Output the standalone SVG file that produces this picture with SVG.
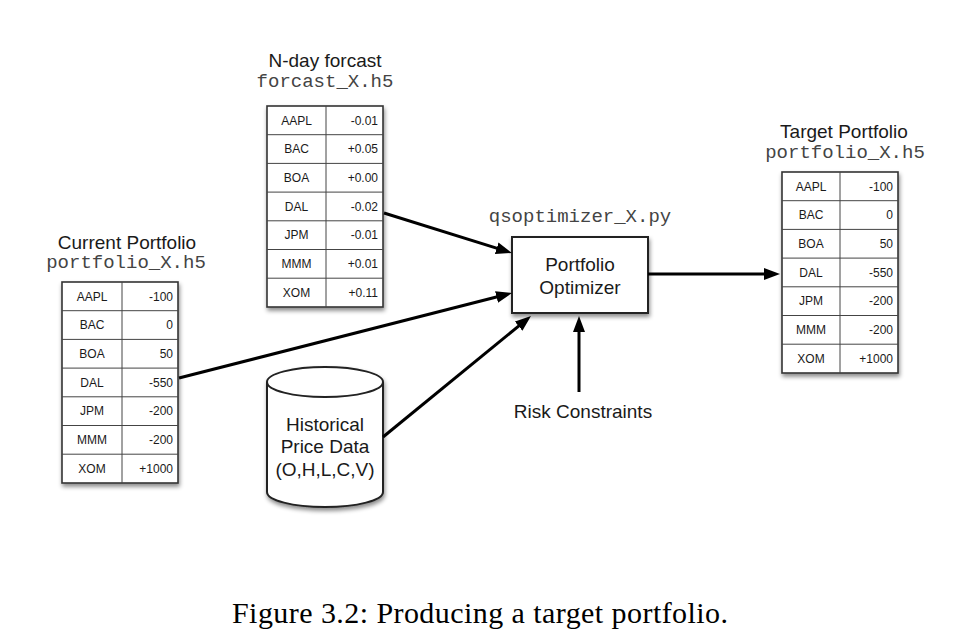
<svg xmlns="http://www.w3.org/2000/svg" width="963" height="644" viewBox="0 0 963 644">
<style>
.title{font-family:"Liberation Sans",Arial,sans-serif;font-size:19px;fill:#1a1a1a;text-anchor:middle}
.mono{font-family:"Liberation Mono","Courier New",monospace;font-size:19px;fill:#444;text-anchor:middle}
.cell{font-family:"Liberation Sans",Arial,sans-serif;font-size:12px;fill:#1a1a1a}
.lab{text-anchor:middle}
.val{text-anchor:end}
.tbl{fill:#fff;stroke:#333;stroke-width:1.6}
.grid{stroke:#444;stroke-width:1}
.box{fill:#fff;stroke:#222;stroke-width:2}
.conn{stroke:#000;stroke-width:3;fill:none}
.big{font-family:"Liberation Sans",Arial,sans-serif;font-size:19px;fill:#1a1a1a;text-anchor:middle}
.cap{font-family:"Liberation Serif","Times New Roman",serif;font-size:30px;fill:#000;text-anchor:middle}
</style>
<defs>
<filter id="sh" x="-15%" y="-10%" width="135%" height="130%">
<feDropShadow dx="1" dy="3" stdDeviation="2" flood-color="#000" flood-opacity="0.45"/>
</filter>
<marker id="ah" viewBox="0 0 16 12" markerWidth="16" markerHeight="12" markerUnits="userSpaceOnUse" refX="4" refY="6" orient="auto">
<path d="M0,0 L16,6 L0,12 Z" fill="#000"/>
</marker>
</defs>
<rect width="963" height="644" fill="#fff"/>

<g id="forecast">
<text class="title" x="325" y="67">N-day forcast</text>
<text class="mono" x="325" y="87">forcast_X.h5</text>
<rect class="tbl" x="267" y="106" width="116" height="201" filter="url(#sh)"/>
<g class="grid">
<line x1="326" y1="106" x2="326" y2="307"/>
<line x1="267" y1="134.7" x2="383" y2="134.7"/>
<line x1="267" y1="163.4" x2="383" y2="163.4"/>
<line x1="267" y1="192.1" x2="383" y2="192.1"/>
<line x1="267" y1="220.8" x2="383" y2="220.8"/>
<line x1="267" y1="249.5" x2="383" y2="249.5"/>
<line x1="267" y1="278.2" x2="383" y2="278.2"/>
</g>
<g class="cell">
<text class="lab" x="296.5" y="124.5">AAPL</text><text class="val" x="378" y="124.5">-0.01</text>
<text class="lab" x="296.5" y="153.2">BAC</text><text class="val" x="378" y="153.2">+0.05</text>
<text class="lab" x="296.5" y="181.9">BOA</text><text class="val" x="378" y="181.9">+0.00</text>
<text class="lab" x="296.5" y="210.6">DAL</text><text class="val" x="378" y="210.6">-0.02</text>
<text class="lab" x="296.5" y="239.3">JPM</text><text class="val" x="378" y="239.3">-0.01</text>
<text class="lab" x="296.5" y="268">MMM</text><text class="val" x="378" y="268">+0.01</text>
<text class="lab" x="296.5" y="296.7">XOM</text><text class="val" x="378" y="296.7">+0.11</text>
</g>
</g>

<g id="current">
<text class="title" x="127" y="249">Current Portfolio</text>
<text class="mono" x="126" y="268">portfolio_X.h5</text>
<rect class="tbl" x="62" y="282" width="116" height="201" filter="url(#sh)"/>
<g class="grid">
<line x1="122" y1="282" x2="122" y2="483"/>
<line x1="62" y1="310.7" x2="178" y2="310.7"/>
<line x1="62" y1="339.4" x2="178" y2="339.4"/>
<line x1="62" y1="368.1" x2="178" y2="368.1"/>
<line x1="62" y1="396.8" x2="178" y2="396.8"/>
<line x1="62" y1="425.5" x2="178" y2="425.5"/>
<line x1="62" y1="454.2" x2="178" y2="454.2"/>
</g>
<g class="cell">
<text class="lab" x="92" y="300.5">AAPL</text><text class="val" x="173" y="300.5">-100</text>
<text class="lab" x="92" y="329.2">BAC</text><text class="val" x="173" y="329.2">0</text>
<text class="lab" x="92" y="357.9">BOA</text><text class="val" x="173" y="357.9">50</text>
<text class="lab" x="92" y="386.6">DAL</text><text class="val" x="173" y="386.6">-550</text>
<text class="lab" x="92" y="415.3">JPM</text><text class="val" x="173" y="415.3">-200</text>
<text class="lab" x="92" y="444">MMM</text><text class="val" x="173" y="444">-200</text>
<text class="lab" x="92" y="472.7">XOM</text><text class="val" x="173" y="472.7">+1000</text>
</g>
</g>

<g id="target">
<text class="title" x="844" y="138">Target Portfolio</text>
<text class="mono" x="845" y="158">portfolio_X.h5</text>
<rect class="tbl" x="782" y="172" width="116" height="201" filter="url(#sh)"/>
<g class="grid">
<line x1="840" y1="172" x2="840" y2="373"/>
<line x1="782" y1="200.7" x2="898" y2="200.7"/>
<line x1="782" y1="229.4" x2="898" y2="229.4"/>
<line x1="782" y1="258.1" x2="898" y2="258.1"/>
<line x1="782" y1="286.8" x2="898" y2="286.8"/>
<line x1="782" y1="315.5" x2="898" y2="315.5"/>
<line x1="782" y1="344.2" x2="898" y2="344.2"/>
</g>
<g class="cell">
<text class="lab" x="811" y="190.5">AAPL</text><text class="val" x="893" y="190.5">-100</text>
<text class="lab" x="811" y="219.2">BAC</text><text class="val" x="893" y="219.2">0</text>
<text class="lab" x="811" y="247.9">BOA</text><text class="val" x="893" y="247.9">50</text>
<text class="lab" x="811" y="276.6">DAL</text><text class="val" x="893" y="276.6">-550</text>
<text class="lab" x="811" y="305.3">JPM</text><text class="val" x="893" y="305.3">-200</text>
<text class="lab" x="811" y="334">MMM</text><text class="val" x="893" y="334">-200</text>
<text class="lab" x="811" y="362.7">XOM</text><text class="val" x="893" y="362.7">+1000</text>
</g>
</g>

<g id="optimizer">
<text class="mono" x="580" y="222">qsoptimizer_X.py</text>
<rect class="box" x="512" y="237" width="136" height="76" filter="url(#sh)"/>
<text class="big" x="580" y="271">Portfolio</text>
<text class="big" x="580" y="294">Optimizer</text>
</g>

<g id="historical">
<path d="M267,382 L267,492 A58,15 0 0 0 383,492 L383,382 A58,15 0 0 0 267,382 Z" fill="#fff" stroke="#222" stroke-width="2" filter="url(#sh)"/>
<path d="M267,382 A58,15 0 0 0 383,382" fill="none" stroke="#222" stroke-width="2"/>
<text class="big" x="325" y="431">Historical</text>
<text class="big" x="325" y="453">Price Data</text>
<text class="big" x="325" y="476">(O,H,L,C,V)</text>
</g>

<g id="risk">
<text class="big" x="583" y="418">Risk Constraints</text>
</g>

<g id="connectors">
<line class="conn" x1="384" y1="213" x2="500.5" y2="249.4" marker-end="url(#ah)"/>
<line class="conn" x1="179" y1="378" x2="500.4" y2="296" marker-end="url(#ah)"/>
<line class="conn" x1="383" y1="437" x2="521.7" y2="323.6" marker-end="url(#ah)"/>
<line class="conn" x1="579" y1="392" x2="579" y2="328" marker-end="url(#ah)"/>
<line class="conn" x1="648" y1="274" x2="768" y2="274" marker-end="url(#ah)"/>
</g>

<text class="cap" x="480" y="623" textLength="496" lengthAdjust="spacing">Figure 3.2: Producing a target portfolio.</text>
</svg>
